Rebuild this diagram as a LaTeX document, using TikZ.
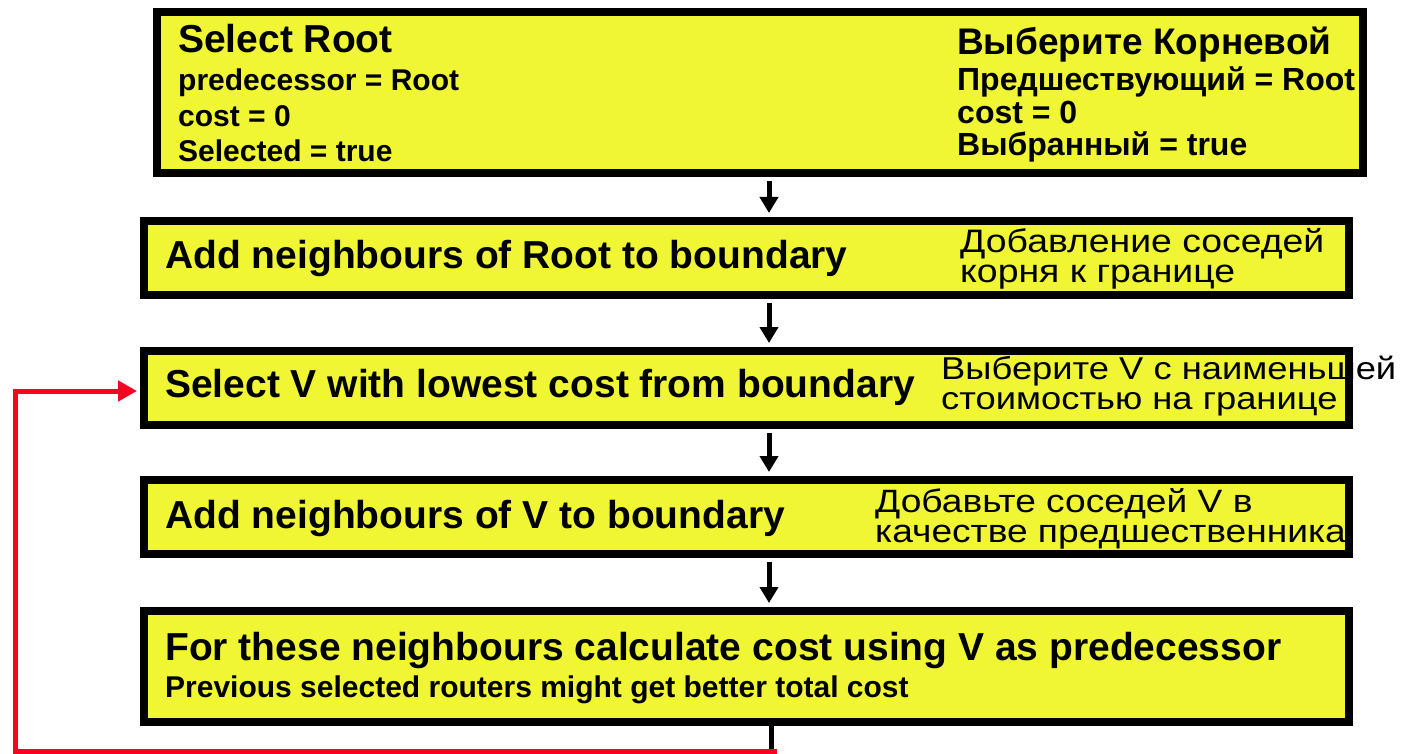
\documentclass[tikz,border=0pt]{standalone}
\usepackage{fontspec}
\setmainfont{Liberation Sans}
\newfontfamily\rufont{Liberation Sans}[FakeStretch=1.15]
\usetikzlibrary{arrows.meta}
\definecolor{boxyellow}{RGB}{240,246,52}
\definecolor{loopred}{RGB}{250,0,35}
\begin{document}
\begin{tikzpicture}[x=1pt,y=-1pt,
  stepbox/.style={draw=black, line width=8pt, fill=boxyellow, inner sep=0pt},
  flow/.style={line width=5pt, draw=black, -{Triangle[width=18pt,length=16pt]}, shorten >=4pt, shorten <=4pt},
  loop/.style={line width=5pt, draw=loopred, -{Triangle[width=20pt,length=19pt]}},
  head/.style={anchor=base west, inner sep=0pt, font=\bfseries\fontsize{39}{39}\selectfont},
  sub/.style={anchor=base west, inner sep=0pt, font=\bfseries\fontsize{30}{30}\selectfont},
  ruhead/.style={anchor=base west, inner sep=0pt, font=\bfseries\fontsize{37}{37}\selectfont},
  rusub/.style={anchor=base west, inner sep=0pt, font=\bfseries\fontsize{32}{32}\selectfont},
  rutext/.style={anchor=base west, inner sep=0pt, align=left}]
\useasboundingbox (0,0) rectangle (1408,754);

% boxes (stroke centred 4pt inside the outer edge)
\node[stepbox, minimum width=1206pt, minimum height=161pt] (b1) at (760,92.5) {};
\node[stepbox, minimum width=1205pt, minimum height=74pt] (b2) at (746.5,258) {};
\node[stepbox, minimum width=1205pt, minimum height=74pt] (b3) at (746.5,388) {};
\node[stepbox, minimum width=1205pt, minimum height=74pt] (b4) at (746.5,517) {};
\node[stepbox, minimum width=1205pt, minimum height=111pt] (b5) at (746.5,666.5) {};

% box 1
\node[head] (t1) at (178,53) {Select Root};
\node[sub] (t1a) at (178,91) {predecessor = Root};
\node[sub] (t1b) at (178,127) {cost = 0};
\node[sub] (t1c) at (178,162) {Selected = true};
\node[ruhead] (r1) at (957,55) {Выберите Корневой};
\node[rusub] (r1a) at (957,91) {Предшествующий = Root};
\node[rusub] (r1b) at (957,124) {cost = 0};
\node[rusub] (r1c) at (957,156) {Выбранный = true};

% box 2 (two-line notes are anchored at the baseline of their last line)
\node[head] (t2) at (165,268) {Add neighbours of Root to boundary};
\node[rutext, font=\rufont\fontsize{32.5}{30}\selectfont] (r2) at (960,282) {Добавление соседей\\корня к границе};

% box 3
\node[head] (t3) at (165,397) {Select V with lowest cost from boundary};
\node[rutext, font=\rufont\fontsize{31.6}{30}\selectfont] (r3) at (941,409) {Выберите V с наименьшей\\стоимостью на границе};

% box 4
\node[head] (t4) at (165,528) {Add neighbours of V to boundary};
\node[rutext, font=\rufont\fontsize{32.3}{30}\selectfont] (r4) at (875,542) {Добавьте соседей V в\\качестве предшественника};

% box 5
\node[head] (t5) at (165,660) {For these neighbours calculate cost using V as predecessor};
\node[sub] (t5a) at (165,697) {Previous selected routers might get better total cost};

% connectors
\coordinate (ax) at (769,0);
\draw[flow] (b1.south -| ax) -- (b2.north -| ax);
\draw[flow] (b2.south -| ax) -- (b3.north -| ax);
\draw[flow] (b3.south -| ax) -- (b4.north -| ax);
\draw[flow] (b4.south -| ax) -- (b5.north -| ax);

% loop back to the selection step
\coordinate (lb) at (771,751);
\coordinate (lc) at (15,751);
\coordinate (ld) at (15,391);
\draw[line width=5pt] (b5.south -| lb) -- (lb);
\draw[loop] (777,751) -- (lc) -- (ld) -- (ld -| b3.west) [shorten >=3pt];
\end{tikzpicture}
\end{document}
